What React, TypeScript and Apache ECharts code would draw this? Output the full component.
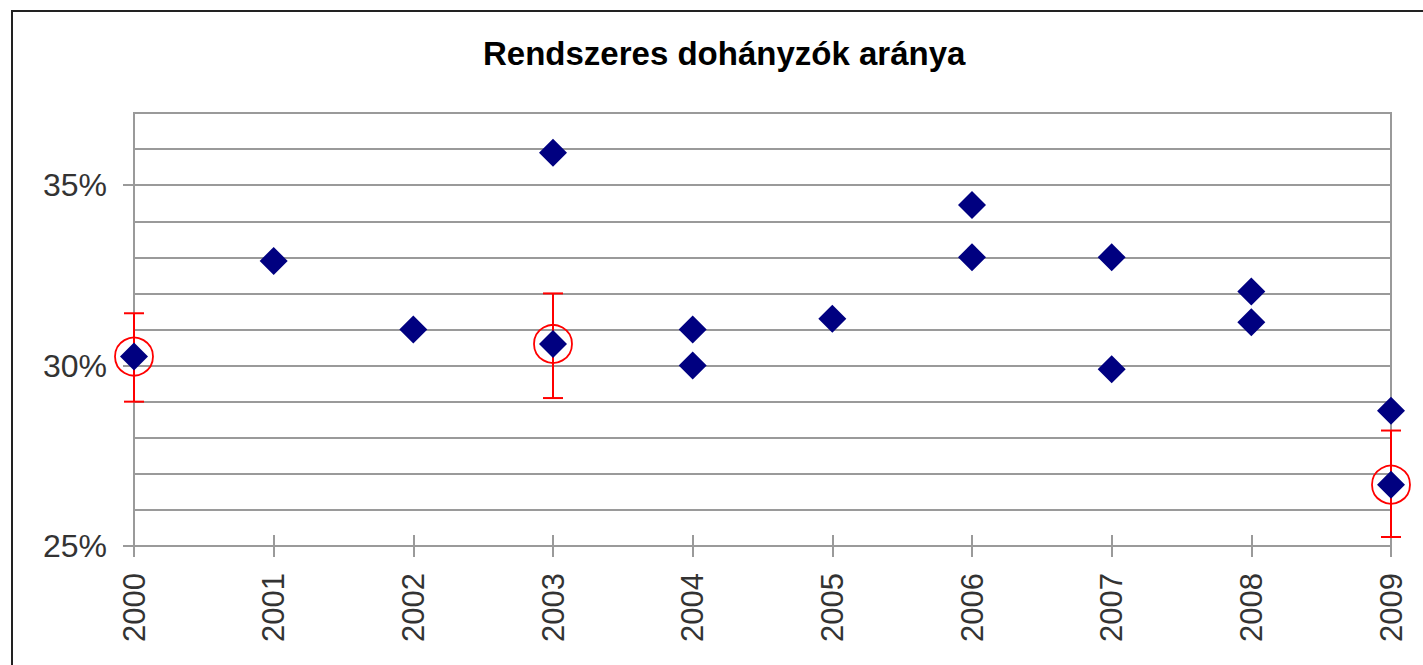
import React, { useEffect, useRef } from "react";
import * as echarts from "echarts";

const chartTitle = "Rendszeres dohányzók aránya";
const yearTicks = [2000, 2001, 2002, 2003, 2004, 2005, 2006, 2007, 2008, 2009];
const percentTicks = [25, 30, 35];

// every survey result (year, % of regular smokers)
const surveyYears = [2000, 2001, 2002, 2003, 2003, 2004, 2004, 2005, 2006, 2006, 2007, 2007, 2008, 2008, 2009, 2009];
const surveyRates = [30.25, 32.9, 31.0, 35.9, 30.6, 31.0, 30.0, 31.3, 34.45, 33.0, 33.0, 29.9, 32.05, 31.2, 28.75, 26.7];

// highlighted results with confidence intervals
const highlightYears = [2000, 2003, 2009];
const highlightRates = [30.25, 30.6, 26.7];
const errorLow = [29.0, 29.1, 25.25];
const errorHigh = [31.45, 32.0, 28.2];

const FONT = "Liberation Sans, Arial, sans-serif";
const GRID_GRAY = "#9a9a9a";

export default function App() {
  const ref = useRef<HTMLDivElement>(null);

  useEffect(() => {
    if (!ref.current) return;
    const chart = echarts.init(ref.current, null, { renderer: "svg" });

    const points = surveyYears.map((y, i) => [y, surveyRates[i]]);
    const highlights = highlightYears.map((y, i) => [y, highlightRates[i]]);
    const errors = highlightYears.map((y, i) => [y, errorLow[i], errorHigh[i]]);

    chart.setOption({
      animation: false,
      backgroundColor: "#ffffff",
      title: {
        text: chartTitle,
        left: 483,
        top: 37,
        padding: 0,
        textStyle: { fontFamily: FONT, fontSize: 33, fontWeight: "bold", color: "#000" },
      },
      graphic: [
        {
          type: "rect",
          shape: { x: 12, y: 11, width: 1500, height: 800 },
          style: { fill: "none", stroke: "#222", lineWidth: 2 },
          silent: true,
        },
      ],
      grid: {
        left: 134,
        right: 32,
        top: 113,
        bottom: 119,
        show: true,
        borderColor: GRID_GRAY,
        borderWidth: 2,
        backgroundColor: "transparent",
      },
      xAxis: [
        {
          type: "value",
          min: 2000,
          max: 2009,
          interval: 1,
          position: "bottom",
          axisLine: { show: true, lineStyle: { color: GRID_GRAY, width: 2 } },
          axisTick: { show: true, length: 11, lineStyle: { color: GRID_GRAY, width: 2 } },
          splitLine: { show: false },
          axisLabel: {
            rotate: 90,
            margin: 27,
            fontFamily: FONT,
            fontSize: 31,
            color: "#333",
            formatter: (v: number) => String(v),
          },
        },
        {
          type: "value",
          min: 2000,
          max: 2009,
          interval: 1,
          position: "bottom",
          axisLine: { show: false },
          axisTick: { show: true, inside: true, length: 11, lineStyle: { color: GRID_GRAY, width: 2 } },
          splitLine: { show: false },
          axisLabel: { show: false },
        },
      ],
      yAxis: [
        {
          type: "value",
          min: 25,
          max: 37,
          interval: 1,
          position: "left",
          axisLine: { show: true, lineStyle: { color: GRID_GRAY, width: 2 } },
          axisTick: { show: false },
          axisLabel: { show: false },
          splitLine: { show: true, lineStyle: { color: GRID_GRAY, width: 2 } },
        },
        {
          type: "value",
          min: 25,
          max: 37,
          interval: 1,
          position: "left",
          axisLine: { show: false },
          axisTick: { show: true, length: 11, customValues: percentTicks, lineStyle: { color: GRID_GRAY, width: 2 } },
          splitLine: { show: false },
          axisLabel: {
            customValues: percentTicks,
            margin: 27,
            fontFamily: FONT,
            fontSize: 32,
            color: "#333",
            formatter: (v: number) => v + "%",
          },
        },
      ],
      series: [
        {
          type: "custom",
          xAxisIndex: 0,
          yAxisIndex: 0,
          data: errors,
          z: 2,
          renderItem: (params: any, api: any) => {
            const x = api.value(0);
            const lo = api.coord([x, api.value(1)]);
            const hi = api.coord([x, api.value(2)]);
            const hw = 10;
            const style = { stroke: "#ff0000", lineWidth: 2 };
            return {
              type: "group",
              children: [
                { type: "line", shape: { x1: lo[0], y1: lo[1], x2: hi[0], y2: hi[1] }, style },
                { type: "line", shape: { x1: lo[0] - hw, y1: lo[1], x2: lo[0] + hw, y2: lo[1] }, style },
                { type: "line", shape: { x1: hi[0] - hw, y1: hi[1], x2: hi[0] + hw, y2: hi[1] }, style },
              ],
            };
          },
        },
        {
          type: "scatter",
          xAxisIndex: 0,
          yAxisIndex: 0,
          data: highlights,
          symbol: "circle",
          symbolSize: 38,
          clip: false,
          z: 3,
          itemStyle: { color: "rgba(255,255,255,0)", borderColor: "#ff0000", borderWidth: 1.8, opacity: 1 },
        },
        {
          type: "scatter",
          xAxisIndex: 0,
          yAxisIndex: 0,
          data: points,
          symbol: "diamond",
          symbolSize: 28,
          clip: false,
          z: 4,
          itemStyle: { color: "#000080", opacity: 1 },
        },
      ],
    });

    return () => chart.dispose();
  }, []);

  return (
    <div
      ref={ref}
      style={{ position: "fixed", left: 0, top: 0, width: 1423, height: 665, background: "#fff" }}
    />
  );
}
